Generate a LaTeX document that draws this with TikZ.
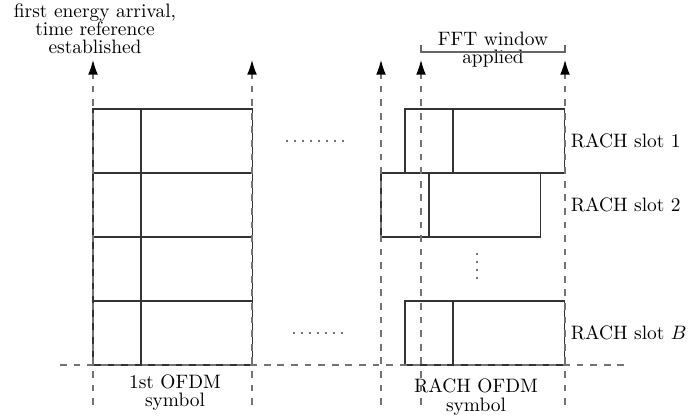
\documentclass[tikz,border=0pt]{standalone}
\usepackage{amsmath,amssymb}
\usepackage{tikz}
\usetikzlibrary{positioning, arrows.meta}

\tikzstyle{cpbox} = [rectangle, 
minimum width=24.7pt, 
minimum height=33pt, 
inner sep=0pt, outer sep=0pt,
draw=black!80, line width=0.7pt]
\tikzstyle{databox} = [rectangle, 
minimum width=57.5pt, 
minimum height=33pt, 
inner sep=0pt, outer sep=0pt,
draw=black!80, line width=0.7pt]
\tikzstyle{slotlabel} = [anchor=west, inner sep=3pt]
\tikzstyle{caption} = [align=center, inner sep=0pt]
\tikzstyle{guide} = [black!55, line width=0.6pt, dash pattern=on 3.5pt off 3.5pt]
\tikzstyle{arrow} = [guide, -{Latex[length=7.5pt,width=5pt,color=black]}]
\tikzstyle{bracket} = [black!60, line width=0.6pt]
\tikzstyle{dotrow} = [black!55, line width=1pt, dash pattern=on 1pt off 3.1pt]

\begin{document}
\begin{tikzpicture}[x=0.515pt, y=-0.515pt]
\useasboundingbox (0,0) rectangle (694,419);

% Nodes
\node (cpa1) [cpbox, anchor=north west] at (93,109) {};
\node (cpa2) [cpbox, anchor=north west] at (93,173) {};
\node (cpa3) [cpbox, anchor=north west] at (93,237) {};
\node (cpa4) [cpbox, anchor=north west] at (93,301) {};
\node (dataa1) [databox, right=0pt of cpa1] {};
\node (dataa2) [databox, right=0pt of cpa2] {};
\node (dataa3) [databox, right=0pt of cpa3] {};
\node (dataa4) [databox, right=0pt of cpa4] {};

\node (cpb1) [cpbox, anchor=north west] at (405,109) {};
\node (cpb2) [cpbox, anchor=north west] at (381,173) {};
\node (cpbB) [cpbox, anchor=north west] at (405,301) {};
\node (datab1) [databox, right=0pt of cpb1] {};
\node (datab2) [databox, right=0pt of cpb2] {};
\node (databB) [databox, right=0pt of cpbB] {};

\node (slot1) [slotlabel] at (datab1.east) {RACH slot 1};
\node (slot2) [slotlabel] at (datab1.east |- datab2.east) {RACH slot 2};
\node (slotB) [slotlabel] at (databB.east) {RACH slot $B$};

\node (arrival) [caption] at (95,29) {first energy arrival,\\[-2.6pt] time reference\\[-2.6pt] established};
\node (fft) [caption] at (493,50) {FFT window\\[-2.6pt] applied};
\node (sym1) [caption] at (175,393) {1st OFDM\\[-2.6pt] symbol};
\node (symr) [caption] at (476,397) {RACH OFDM\\[-2.6pt] symbol};

% Coordinates
\coordinate (g1bot) at (93,405);
\coordinate (g1top) at (93,60);
\coordinate (g2bot) at (252,405);
\coordinate (g2top) at (252,60);
\coordinate (g3bot) at (381,405);
\coordinate (g3top) at (381,60);
\coordinate (g4bot) at (421,405);
\coordinate (g4top) at (421,60);
\coordinate (g5bot) at (565,405);
\coordinate (g5top) at (565,60);
\coordinate (hleft) at (60,365);
\coordinate (hright) at (628,365);
\coordinate (fftl) at (421,45);
\coordinate (fftr) at (565,45);
\coordinate (dotsa) at (286,141);
\coordinate (dotsb) at (344,141);
\coordinate (dotsc) at (293,333);
\coordinate (dotsd) at (344,333);
\coordinate (vdotsa) at (477,253);
\coordinate (vdotsb) at (477,279);

% Arrows
\draw [arrow] (g1bot) -- (g1top);
\draw [arrow] (g2bot) -- (g2top);
\draw [arrow] (g3bot) -- (g3top);
\draw [arrow] (g4bot) -- (g4top);
\draw [arrow] (g5bot) -- (g5top);
\draw [guide] (hleft) -- (hright);
\draw [bracket] (fftl) -- ++(0,7) -| (fftr);
\draw [dotrow] (dotsa) -- (dotsb);
\draw [dotrow] (dotsc) -- (dotsd);
\draw [dotrow] (vdotsa) -- (vdotsb);

\end{tikzpicture}
\end{document}
